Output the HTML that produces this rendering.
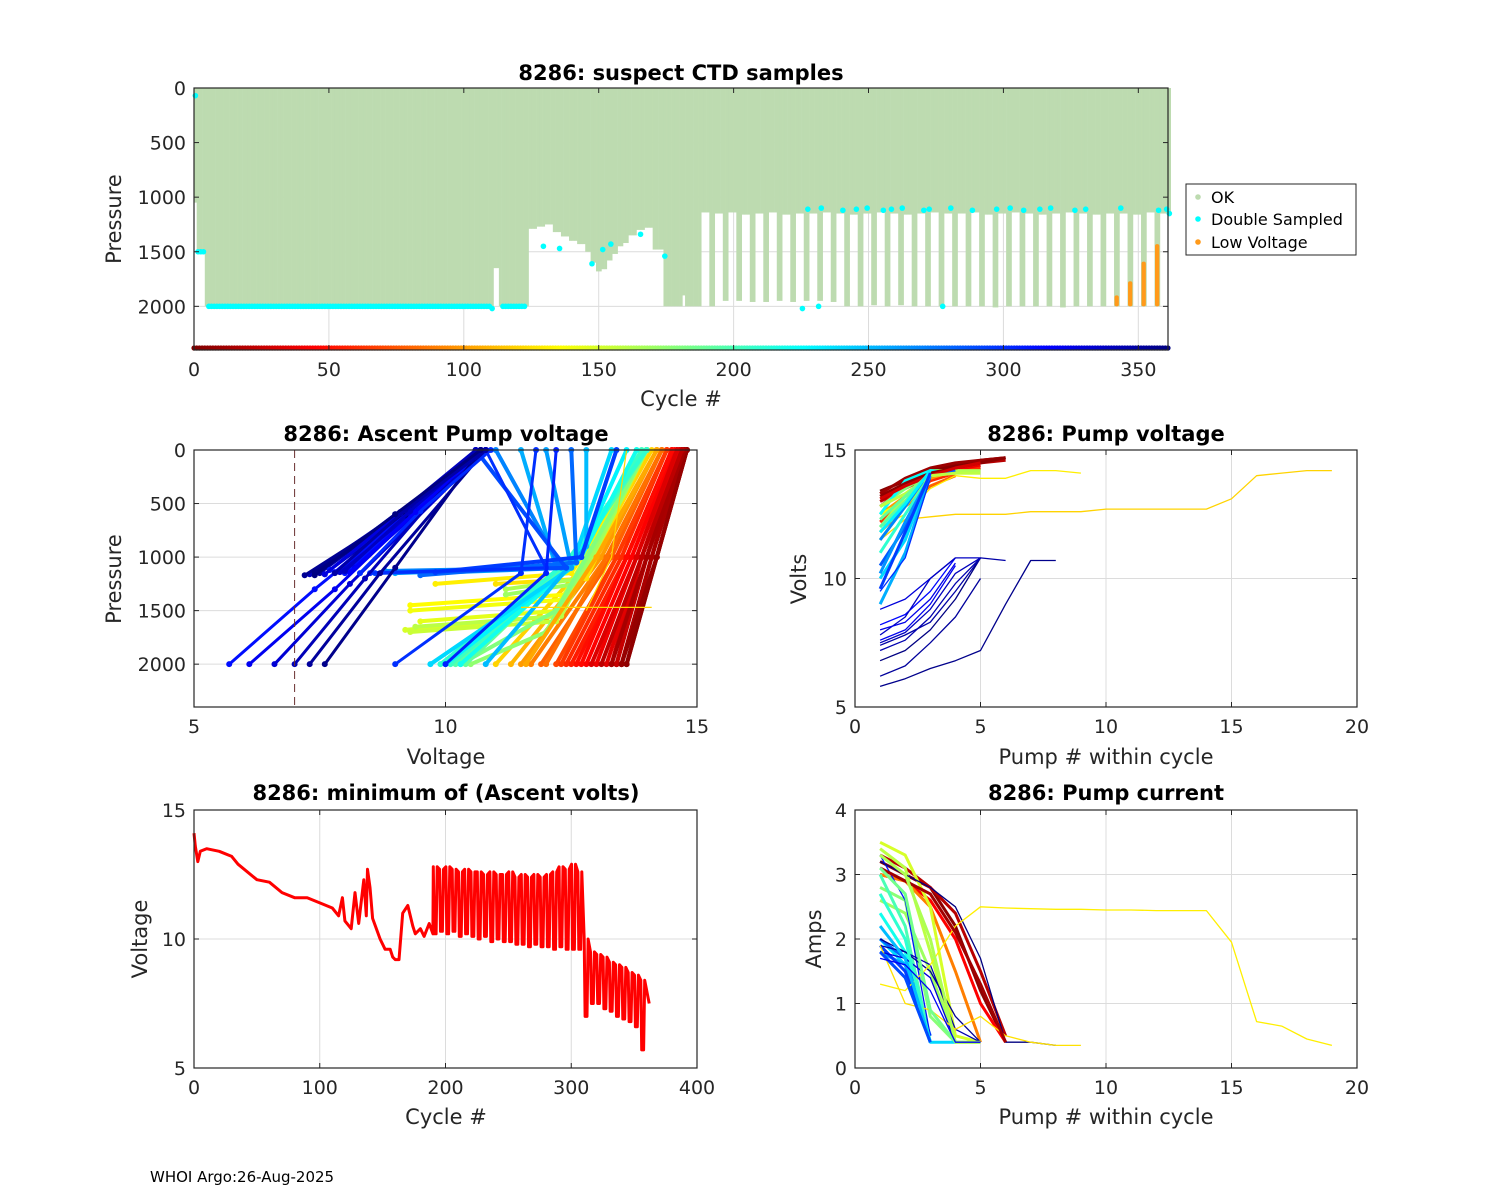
<!DOCTYPE html>
<html><head><meta charset="utf-8">
<style>
body{margin:0;background:#fff;}
svg{display:block;font-family:"DejaVu Sans","Liberation Sans",sans-serif;}
</style></head>
<body>
<svg id="fig" width="1500" height="1200" viewBox="0 0 1500 1200" xmlns="http://www.w3.org/2000/svg">
<rect width="1500" height="1200" fill="#fff"/>
<text x="150" y="1182" font-size="15" fill="#000">WHOI Argo:26-Aug-2025</text>
</svg>
<script>
// ---------- DATA ----------
const depthRunStarts = [0,1,4,111,113,124,127,130,133,136,139,142,145,147,149,151,153,155,157,159,161,164,167,170,174,181,182,188];
const depthRunValues = [1050,1500,2000,1650,2000,1290,1270,1250,1320,1360,1400,1430,1500,1600,1680,1660,1580,1520,1450,1420,1350,1300,1280,1480,2000,1900,2000,1140];
const deepStarts = [191,196,201,206,211,216,221,226,231,236,241,246,251,256,261,266,271,276,281,286,291,296,301,306,311,316,321,326,331,336,341,346,351,356];
const deepDepth = [2000,1950,1950,1960,1960,1950,1960,1950,1950,1960,2000,2000,1990,2000,1990,2000,2000,2000,2000,2000,2000,2010,2000,2000,2000,2000,2010,2000,2000,2000,2000,2000,2000,2000];
const shallowDepth = [1140,1150,1140,1160,1150,1140,1160,1150,1150,1140,1150,1160,1150,1140,1150,1160,1150,1140,1150,1150,1140,1160,1150,1140,1150,1160,1150,1140,1150,1160,1150,1150,1160,1140];
const lowVoltCycles = [341,346,351,356];
const lowVoltTop = [1900,1770,1590,1430];
const dsCycles = [0,1,2,3,5,7,9,12,15,17,19,22,25,27,30,33,36,40,44,47,50,53,56,60,63,66,69,72,75,80,82,86,90,93,96,100,103,106,110,115,118,121,129,135,147,151,154,165,174,225,231,277,227,232,240,245,249,255,258,262,270,272,280,288,297,302,307,313,317,326,330,343,357,360,361];
const dsPressure = [70,1500,1500,1500,2000,2000,2000,2000,2000,2000,2000,2000,2000,2000,2000,2000,2000,2000,2000,2000,2000,2000,2000,2000,2000,2000,2000,2000,2000,2000,2000,2000,2000,2000,2000,2000,2000,2000,2020,2000,2000,2000,1450,1470,1610,1480,1430,1340,1540,2020,2000,2000,1110,1100,1120,1110,1100,1120,1110,1100,1120,1110,1100,1120,1110,1100,1120,1110,1100,1120,1110,1100,1120,1110,1150];
const dsBottomCycles = [6,8,10,11,13,14,16,18,20,21,23,24,26,28,29,31,32,34,35,37,38,39,41,42,43,45,46,48,49,51,52,54,55,57,58,59,61,62,64,65,67,68,70,71,73,74,76,77,78,79,81,83,84,85,87,88,89,91,92,94,95,97,98,99,101,102,104,105,107,108,109,114,116,117,119,120,122];
const topXTicks = [0,50,100,150,200,250,300,350];
const topYTicks = [0,500,1000,1500,2000];

const minVoltCycles = [0,1,3,5,10,20,30,35,50,60,70,80,90,100,110,115,118,120,125,128,131,135,137,138,140,142,148,152,156,158,160,163,166,170,174,176,180,183,187,190];
const minVoltValues = [14.1,13.6,13.0,13.4,13.5,13.4,13.2,12.9,12.3,12.2,11.8,11.6,11.6,11.4,11.2,10.9,11.6,10.7,10.4,11.8,10.6,12.3,10.9,12.7,12.0,10.8,10.0,9.6,9.6,9.3,9.2,9.2,11.0,11.3,10.5,10.2,10.4,10.1,10.6,10.2];
const highV = [12.8,12.7,12.8,12.7,12.6,12.7,12.6,12.6,12.5,12.6,12.5,12.5,12.6,12.4,12.5,12.4,12.5,12.4,12.5,12.6,12.8,12.7,12.9,12.6,10.0,9.5,9.4,9.3,9.1,9.0,8.9,8.7,8.6,8.4];
const lowV = [10.2,10.3,10.2,10.3,10.1,10.2,10.1,10.0,10.1,9.9,10.0,9.9,9.9,9.8,9.8,9.7,9.8,9.7,9.7,9.6,9.7,9.6,9.6,9.6,7.0,7.5,7.5,7.3,7.2,7.0,6.9,6.8,6.6,5.7];

// middle-left: ascent profiles
const profCycles = [2,6,10,15,20,25,30,35,40,45,50,55,60,70,80,90,100,110,120,125,130,135,140,145,150,155,160,165,170,175,180,190,195,200,205,210,220,230,240,250,255,260,270,280,290,295,300,305,310,315,320,325,330,335,340,345,350,355,360,312,322,332,342,352,358,300,305,8,14,22,33,48,65,85,105,302,308,318,328,338,348,362];
const profVBottom = [13.6,13.6,13.5,13.5,13.4,13.4,13.3,13.2,13.0,12.8,12.6,12.5,12.4,12.2,11.9,11.7,11.5,11.3,11.0,11.0,9.8,9.3,9.3,9.5,9.2,9.3,9.4,11.2,11.2,10.5,10.3,10.4,10.2,10.0,10.1,9.9,10.3,10.0,9.7,10.8,9.0,9.6,8.8,9.5,8.6,9.8,8.5,7.5,8.0,7.8,7.6,8.2,7.4,7.9,7.3,7.7,7.5,7.2,7.4,5.7,6.1,6.6,7.0,7.3,7.6,9.0,10.0,13.5,13.3,13.1,12.9,12.7,12.3,12.0,11.6,8.3,7.7,8.1,7.6,8.0,7.8,7.4];
const profPBottom = [2000,2000,2000,2000,2000,2000,2000,2000,2000,2000,2000,2000,2000,2000,2000,2000,2000,2000,2000,1250,1250,1450,1500,1600,1680,1700,1650,1300,1350,2000,2000,2000,2000,2000,2000,2000,2000,2000,2000,2000,1150,1150,1130,1170,1150,1140,1150,1130,1150,1140,1160,1100,1150,1140,1160,1120,1150,1170,1140,2000,2000,2000,2000,2000,2000,2000,2000,2000,2000,2000,2000,2000,2000,2000,2000,1150,1120,1140,1160,1130,1150,1170];
const profVMid = [14.2,14.2,14.1,14.1,14.0,14.0,13.9,13.9,13.8,13.7,13.6,13.6,13.5,13.4,13.3,13.2,13.1,13.0,12.9,12.8,12.5,12.4,12.3,12.3,12.2,12.2,12.3,12.7,12.6,12.0,12.2,12.4,12.5,12.6,12.5,12.4,12.7,12.6,12.5,12.8,12.2,12.5,12.3,12.6,12.4,12.7,12.0,9.0,9.3,9.1,9.2,9.4,9.0,9.3,9.1,9.2,9.0,9.1,9.2,7.4,7.8,8.1,8.4,8.7,9.0,11.5,12.0,14.2,14.0,13.9,13.8,13.6,13.4,13.2,13.0,9.5,9.2,9.4,9.1,9.3,9.2,9.0];
const profPMid = [1000,1000,1000,1000,1000,1000,1000,1000,1000,1000,1000,1000,1000,1000,1000,1000,1000,1000,1000,1200,1150,1350,1400,1500,1550,1600,1550,1200,1250,1700,1500,1100,1050,1000,1100,1050,1000,1050,1100,900,1100,1100,1100,1050,1100,1000,1100,600,600,620,580,600,620,600,580,600,620,600,610,1300,1300,1250,1200,1150,1100,1150,1150,1000,1000,1000,1000,1000,1000,1000,1000,570,560,580,590,570,560,600];
const profVTop = [14.8,14.8,14.75,14.75,14.7,14.7,14.65,14.65,14.6,14.55,14.5,14.5,14.4,14.4,14.3,14.3,14.2,14.2,14.1,14.0,14.0,14.0,14.0,14.0,14.0,14.0,14.0,14.0,14.0,14.0,14.0,14.0,14.0,14.0,13.9,14.0,13.8,13.6,13.3,12.8,11.5,12.0,11.0,12.5,10.6,13.4,10.8,10.8,10.7,10.8,10.6,10.8,10.7,10.8,10.6,10.8,10.7,10.8,10.7,10.8,10.7,10.8,10.6,10.8,10.7,11.8,12.2,14.8,14.75,14.7,14.6,14.5,14.4,14.3,14.2,10.9,10.8,10.7,10.8,10.7,10.8,10.7];

const pvCycles = [2,10,20,40,60,80,100,120,130,135,150,165,180,195,210,225,240,255,270,285,300,315,322,330,338,345,352,358,361,348,5,30,160,190,230,265,295,325,340];
const pvValues = [
 [13.4,13.8,14.2,14.4,14.6,14.7],[13.3,13.9,14.3,14.5,14.6,14.7],[13.0,13.5,14.0,14.3,14.5,14.6],[12.8,13.6,14.0,14.2,14.4],
 [12.2,13.0,13.8,14.1,14.3],[11.8,12.8,13.6,14.0],[12.5,13.2,13.9,14.2],
 [11.5,12.3,12.4,12.5,12.5,12.5,12.6,12.6,12.6,12.7,12.7,12.7,12.7,12.7,13.1,14.0,14.1,14.2,14.2],
 [12.0,12.5,13.5,14.0,13.9,13.9,14.2,14.2,14.1],
 [12.5,13.0,14.1,14.1,14.1],[11.5,12.8,14.0,14.1],[12.0,13.2,14.2,14.2,14.2],
 [12.8,13.5,14.1],[12.0,13.0,14.2],[11.0,12.5,14.0],[12.5,13.8,14.2,14.1],
 [10.0,11.5,14.1],[9.0,11.0,14.0],[11.5,12.8,14.2],[10.5,12.0,14.0,14.2],[9.5,10.8,13.9],
 [8.2,8.6,9.5,10.8],[7.6,8.0,9.0,10.5],[8.8,9.2,10.0,10.8],[7.8,8.5,10.0,10.8,10.8],
 [7.2,7.6,8.5,9.8,10.8],[6.2,6.6,7.5,8.5,10.0],[5.8,6.1,6.5,6.8,7.2,9.0,10.7,10.7],[6.8,7.2,8.0,9.2,10.8],[7.4,7.8,8.3,9.5,10.8,10.7],
 [13.2,13.7,14.1,14.3,14.5,14.7],[13.1,13.6,14.0,14.3,14.5],[12.8,13.3,14.0,14.1,14.1],[12.3,13.2,14.1],[11.8,12.9,14.2],[10.2,12.2,14.0],[9.6,11.8,14.1],[8.0,8.3,9.2,10.6],[7.5,7.9,8.8,10.2,10.8]];

const pcCycles = [5,20,45,90,150,160,170,178,200,220,240,260,280,295,310,330,345,355,362,130,125,12,165,185,210,250,290,320];
const pcValues = [
 [3.2,3.0,2.8,2.2,1.2,0.4],[3.3,3.1,2.8,2.4,1.5,0.5],[3.0,2.9,2.6,2.0,1.0,0.4],[3.0,2.9,2.5,1.5,0.4],
 [3.5,3.3,2.5,0.5,0.4],[3.4,3.1,1.8,0.4,0.4],[2.6,2.4,1.5,0.4,0.4],[2.8,2.6,0.8,0.4],
 [3.0,2.2,0.4],[2.4,1.8,0.4],[2.0,1.6,0.4,0.4],[1.8,1.6,0.4],[2.0,1.7,0.5],[1.9,1.5,0.4],[3.3,2.6,0.5],
 [1.8,1.7,1.4,0.4,0.4],[1.9,1.8,1.6,0.6,0.4],[2.0,1.8,1.5,0.8,0.4],[3.2,3.0,2.8,2.5,1.7,0.4,0.4,0.35],
 [1.3,1.2,1.6,2.2,2.5,2.48,2.47,2.46,2.46,2.45,2.45,2.44,2.44,2.44,1.95,0.72,0.65,0.45,0.35],
 [1.9,1.0,0.9,0.6,0.8,0.5,0.4,0.35,0.35],
 [3.1,2.9,2.7,2.1,1.3,0.4],[3.3,3.0,2.0,0.4,0.4],[3.1,2.7,0.9,0.4],[2.7,2.0,0.4],[2.2,1.7,0.4],[1.8,1.4,0.4],[1.7,1.6,1.2,0.4,0.4]];

// ---------- DRAWING ----------
const NS = "http://www.w3.org/2000/svg";
const svg = document.getElementById('fig');
function el(tag, attrs, parent){
  const e = document.createElementNS(NS, tag);
  for (const k in attrs) e.setAttribute(k, attrs[k]);
  (parent||svg).appendChild(e);
  return e;
}
function jet(cycle){
  const t = 1 - Math.min(Math.max(cycle/362,0),1);
  const c = v => Math.round(255*Math.min(Math.max(v,0),1));
  return `rgb(${c(1.5-Math.abs(4*t-3))},${c(1.5-Math.abs(4*t-2))},${c(1.5-Math.abs(4*t-1))})`;
}
function makeAxes(name, x0,y0,w,h, xmin,xmax,ymin,ymax, rev, xticks, yticks){
  const g = el('g',{});
  
  
  const sx = v => x0 + (v-xmin)/(xmax-xmin)*w;
  const sy = rev ? (v => y0 + (v-ymin)/(ymax-ymin)*h) : (v => y0 + h - (v-ymin)/(ymax-ymin)*h);
  const grid = el('g',{},g);
  
  
  xticks.forEach(t=>el('line',{x1:sx(t),x2:sx(t),y1:y0,y2:y0+h,stroke:'#dcdcdc','stroke-width':1},grid));
  yticks.forEach(t=>el('line',{x1:x0,x2:x0+w,y1:sy(t),y2:sy(t),stroke:'#dcdcdc','stroke-width':1},grid));
  const plot = el('g',{},g);
  
  
  const front = el('g',{},g);
  return {g, plot, front, sx, sy, x0,y0,w,h, xticks, yticks, name};
}
function finishAxes(a){
  const f = a.front;
  el('rect',{x:a.x0,y:a.y0,width:a.w,height:a.h,fill:'none',stroke:'#262626','stroke-width':1.2},f);
  a.xticks.forEach(t=>{
    const x=a.sx(t);
    el('line',{x1:x,x2:x,y1:a.y0+a.h,y2:a.y0+a.h-5,stroke:'#262626'},f);
    el('line',{x1:x,x2:x,y1:a.y0,y2:a.y0+5,stroke:'#262626'},f);
    const tx = el('text',{x:x,y:a.y0+a.h+26,'font-size':19,'text-anchor':'middle',fill:'#262626'},f);
    tx.textContent = t;
    
    
  });
  a.yticks.forEach(t=>{
    const y=a.sy(t);
    el('line',{x1:a.x0,x2:a.x0+5,y1:y,y2:y,stroke:'#262626'},f);
    el('line',{x1:a.x0+a.w,x2:a.x0+a.w-5,y1:y,y2:y,stroke:'#262626'},f);
    const ty = el('text',{x:a.x0-8,y:y+7,'font-size':19,'text-anchor':'end',fill:'#262626'},f);
    ty.textContent = t;
    
    
  });
}
function label(txt,x,y,opts,name){
  const t = el('text',Object.assign({x:x,y:y,'font-size':21,'text-anchor':'middle',fill:'#262626'},opts||{}));
  t.textContent = txt;
  
  
  return t;
}
function poly(parent, pts, stroke, sw, name){
  const p = el('polyline',{points:pts.map(p=>p[0].toFixed(1)+','+p[1].toFixed(1)).join(' '),fill:'none',stroke:stroke,'stroke-width':sw,'stroke-linejoin':'round'},parent);
  
  
  return p;
}

// ===== TOP CHART =====
const A = makeAxes('ctd-samples-chart',194,88,974,262,0,361,0,2400,true,topXTicks,topYTicks);
const depthByCycle = [];
for (let c=0;c<=362;c++){
  let d = 1140;
  for (let i=0;i<depthRunStarts.length;i++) if (c>=depthRunStarts[i]) d = depthRunValues[i];
  if (c>=189){
    d = 1150;
    for (let k=0;k<deepStarts.length;k++){
      if (c>=deepStarts[k]-3 && c<deepStarts[k]) d = shallowDepth[k];
      if (c>=deepStarts[k] && c<deepStarts[k]+2) d = deepDepth[k];
    }
  }
  depthByCycle.push(d);
}
depthByCycle.forEach((d,c)=>{
  if (c>361) return;
  const r = el('rect',{x:A.sx(c),y:A.sy(0),width:A.sx(c+1)-A.sx(c)+0.3,height:A.sy(d)-A.sy(0),fill:'#bddbb0'},A.plot);
  
  
});
lowVoltCycles.forEach((c,i)=>{
  const r = el('rect',{x:A.sx(c)+0.5,y:A.sy(lowVoltTop[i]),width:A.sx(c+1.6)-A.sx(c),height:A.sy(2000)-A.sy(lowVoltTop[i]),fill:'#ff9a1a',rx:2},A.plot);
  
  
});
dsCycles.forEach((c,i)=>{
  const d = el('circle',{cx:A.sx(c+0.5),cy:A.sy(dsPressure[i]),r:2.8,fill:'#00ffff'},A.plot);
  
  
});
dsBottomCycles.forEach(c=>{
  const d = el('circle',{cx:A.sx(c+0.5),cy:A.sy(2000),r:2.8,fill:'#00ffff'},A.plot);
  
  
});
for (let c=0;c<=361;c++){
  const d = el('circle',{cx:A.sx(c),cy:348,r:2.6,fill:jet(c)},A.plot);
  
  
}
finishAxes(A);
label('8286: suspect CTD samples',681,80,{'font-weight':'bold',fill:'#000'},'top-chart-title');
label('Cycle #',681,406,{},'top-x-axis-title');
label('Pressure',121,219,{transform:'rotate(-90 121 219)'},'top-y-axis-title');
const lg = el('g',{});


el('rect',{x:1186,y:184,width:170,height:71,fill:'#fff',stroke:'#262626','stroke-width':1},lg);
[['OK','#bddbb0',197],['Double Sampled','#00ffff',219],['Low Voltage','#ff9a1a',242]].forEach(e=>{
  const it = el('g',{},lg);
  
  
  el('circle',{cx:1198,cy:e[2],r:2.8,fill:e[1]},it);
  const t = el('text',{x:1211,y:e[2]+6,'font-size':16,fill:'#000'},it);
  t.textContent = e[0];
});

// ===== MIDDLE LEFT =====
const B = makeAxes('ascent-pump-voltage-chart',194,450,503,257,5,15,0,2400,true,[5,10,15],[0,500,1000,1500,2000]);
profCycles.forEach((c,i)=>{
  const pts = [[B.sx(profVBottom[i]),B.sy(profPBottom[i])],[B.sx(profVMid[i]),B.sy(profPMid[i])],[B.sx(profVTop[i]),B.sy(0)]];
  const col = jet(c);
  poly(B.plot, pts, col, c>=300?3:4, 'ascent-profile-line');
  pts.forEach(p=>{
    const m = el('circle',{cx:p[0],cy:p[1],r:3,fill:col},B.plot);
    
    
  });
});
poly(B.plot,[[B.sx(11.5),B.sy(1470)],[B.sx(14.1),B.sy(1470)]],'#ffd700',1.2,'yellow-profile-line');
poly(B.plot,[[B.sx(12.8),B.sy(1500)],[B.sx(13.3),B.sy(1000)],[B.sx(13.6),B.sy(0)]],'#ffd700',1.2,'yellow-profile-line');
const dl = el('line',{x1:B.sx(7),x2:B.sx(7),y1:450,y2:707,stroke:'#6a3030','stroke-width':1,'stroke-dasharray':'8,5'},B.plot);


finishAxes(B);
label('8286: Ascent Pump voltage',446,441,{'font-weight':'bold',fill:'#000'},'ascent-chart-title');
label('Voltage',446,764,{},'ascent-x-axis-title');
label('Pressure',121,579,{transform:'rotate(-90 121 579)'},'ascent-y-axis-title');

// ===== MIDDLE RIGHT =====
const C = makeAxes('pump-voltage-chart',855,450,502,257,0,20,5,15,false,[0,5,10,15,20],[5,10,15]);
pvCycles.forEach((c,i)=>{
  poly(C.plot, pvValues[i].map((v,j)=>[C.sx(j+1),C.sy(v)]), jet(c), (c>=300||c===120||c===130)?1.3:3, 'pump-voltage-line');
});
finishAxes(C);
label('8286: Pump voltage',1106,441,{'font-weight':'bold',fill:'#000'},'pump-voltage-title');
label('Pump # within cycle',1106,764,{},'pump-voltage-x-axis-title');
label('Volts',806,579,{transform:'rotate(-90 806 579)'},'pump-voltage-y-axis-title');

// ===== BOTTOM LEFT =====
const D = makeAxes('min-ascent-volts-chart',194,810,503,258,0,400,5,15,false,[0,100,200,300,400],[5,10,15]);
const mvPts = minVoltCycles.map((c,i)=>[D.sx(c),D.sy(minVoltValues[i])]);
deepStarts.forEach((c,k)=>{
  mvPts.push([D.sx(c-0.7),D.sy(highV[k])]);
  mvPts.push([D.sx(c),D.sy(lowV[k])]);
  mvPts.push([D.sx(c+1.5),D.sy(lowV[k])]);
  mvPts.push([D.sx(c+2.4),D.sy(highV[k])]);
});
mvPts.push([D.sx(362),D.sy(7.5)]);
poly(D.plot, mvPts, '#ff0000', 3, 'min-volts-line');
finishAxes(D);
label('8286: minimum of (Ascent volts)',446,800,{'font-weight':'bold',fill:'#000'},'min-volts-title');
label('Cycle #',446,1124,{},'min-volts-x-axis-title');
label('Voltage',147,939,{transform:'rotate(-90 147 939)'},'min-volts-y-axis-title');

// ===== BOTTOM RIGHT =====
const E = makeAxes('pump-current-chart',855,810,502,258,0,20,0,4,false,[0,5,10,15,20],[0,1,2,3,4]);
pcCycles.forEach((c,i)=>{
  poly(E.plot, pcValues[i].map((v,j)=>[E.sx(j+1),E.sy(v)]), jet(c), (c>=300||c===130||c===125)?1.3:3, 'pump-current-line');
});
finishAxes(E);
label('8286: Pump current',1106,800,{'font-weight':'bold',fill:'#000'},'pump-current-title');
label('Pump # within cycle',1106,1124,{},'pump-current-x-axis-title');
label('Amps',821,939,{transform:'rotate(-90 821 939)'},'pump-current-y-axis-title');
</script>
</body></html>
